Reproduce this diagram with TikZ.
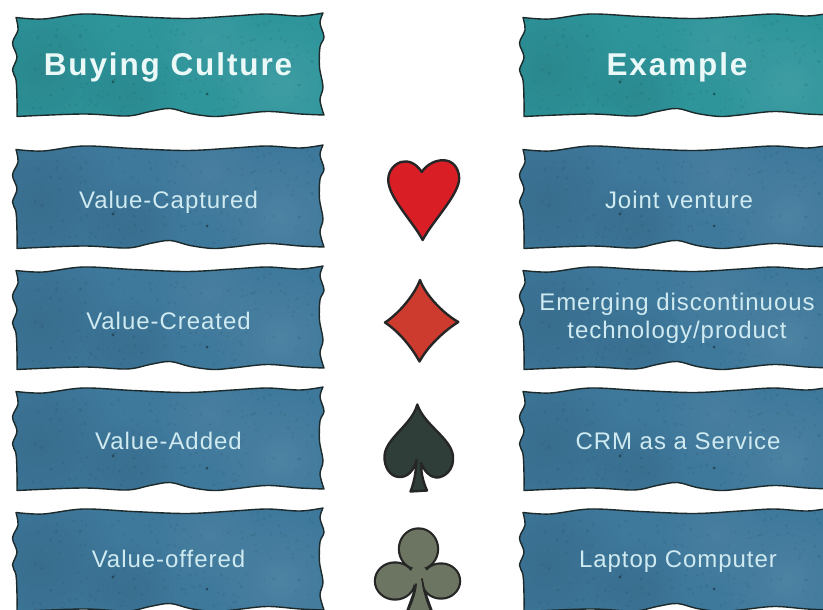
\documentclass[tikz,border=0pt]{standalone}
\usetikzlibrary{fadings}
\usepackage{fontspec}
\setmainfont{Liberation Sans}
\newfontfamily\bodyfont[LetterSpace=4]{Liberation Sans}
\newfontfamily\headfont[LetterSpace=6]{Liberation Sans Bold}
\definecolor{tealbox}{HTML}{2E959B}
\definecolor{bluebox}{HTML}{3E789B}
\definecolor{ink}{HTML}{1C2A2C}
\definecolor{bodytext}{HTML}{CFEAF0}
\definecolor{headtext}{HTML}{EAF8F8}
\definecolor{heartred}{HTML}{D91E26}
\definecolor{diamondred}{HTML}{CC3B2E}
\definecolor{spadegreen}{HTML}{2F3E38}
\definecolor{clubgreen}{HTML}{6C7561}
\tikzset{
  bannerline/.style={draw=ink,line width=1.4pt,line join=round},
  suitline/.style={draw=black!85,line width=2.4pt,line join=round},
  softblot/.style={path fading=softedge},
  bodylabel/.style={font=\fontsize{24}{27.5}\selectfont\bodyfont,text=bodytext,align=center,anchor=base,inner sep=0pt},
  headlabel/.style={font=\fontsize{31.5}{36}\selectfont\headfont,text=headtext,align=center,anchor=base,inner sep=0pt},
}
\tikzfading[name=softedge,inner color=transparent!0,outer color=transparent!100]
\newcommand{\bannerpath}{
  plot[smooth,tension=.55] coordinates {(16,17.5)(43,19)(83,14)(133,16.5)(187,18.5)(233,16)(267,14)(300,16)(323,13)}
  -- plot[smooth,tension=.55] coordinates {(323,13)(320,23)(324,37)(320,47)(319.5,67)(323,87)(320,100)(324,115)}
  -- plot[smooth,tension=.55] coordinates {(324,115)(300,114)(267,111.5)(233,115)(213,116.5)(190,113.5)(170,108.5)(150,111.5)(127,116)(83,114)(17,116.5)}
  -- plot[smooth,tension=.55] coordinates {(17,116.5)(17,100)(16,80)(12.5,70)(17,57)(12.5,43)(18,30)(16,17.5)}
  -- cycle
}
\newcommand{\banner}[3]{%
  \begin{scope}[shift={(#1,#2)}]
    \begin{scope}
      \clip \bannerpath;
      \fill[#3] (0,0) rectangle (340,130);
      \fill[black,opacity=.09,softblot] (40,70) circle (80);
      \fill[black,opacity=.08,softblot] (130,95) circle (50);
      \fill[white,opacity=.08,softblot] (280,85) circle (70);
      \fill[white,opacity=.06,softblot] (210,40) circle (55);
      \pgfmathsetseed{4711}
      \foreach \k in {1,...,260}{
        \pgfmathsetmacro{\px}{10+rnd*320}
        \pgfmathsetmacro{\py}{10+rnd*110}
        \pgfmathsetmacro{\pr}{.5+rnd*1.3}
        \fill[black,opacity=.06] (\px,\py) circle (\pr);
      }
      \fill[black,opacity=.35] (113,82) circle (1.6);
      \fill[black,opacity=.4] (207,94) circle (1.5);
    \end{scope}
    \draw[bannerline] \bannerpath;
  \end{scope}}
\begin{document}
\begin{tikzpicture}[x=1pt,y=-1pt]
\useasboundingbox (0,0) rectangle (823,610);
\clip (0,0) rectangle (823,610);
\fill[white] (0,0) rectangle (823,610);
% banners
\banner{0}{0}{tealbox}
\banner{0}{132}{bluebox}
\banner{0}{253}{bluebox}
\banner{0}{374}{bluebox}
\banner{0}{495}{bluebox}
\banner{507}{0}{tealbox}
\banner{507}{132}{bluebox}
\banner{507}{253}{bluebox}
\banner{507}{374}{bluebox}
\banner{507}{495}{bluebox}
% labels
\node[headlabel] (hleft) at (168,76) {Buying Culture};
\node[headlabel] (hright) at (677,76) {Example};
\node[bodylabel] (l1) at (168.5,208) {Value-Captured};
\node[bodylabel] (l2) at (168.5,329) {Value-Created};
\node[bodylabel] (l3) at (168.5,449) {Value-Added};
\node[bodylabel] (l4) at (168.5,567) {Value-offered};
\node[bodylabel] (r1) at (679,208) {Joint venture};
\node[bodylabel] (r2a) at (677,310.5) {Emerging discontinuous};
\node[bodylabel] (r2b) at (677,338) {technology/product};
\node[bodylabel] (r3) at (678,449) {CRM as a Service};
\node[bodylabel] (r4) at (678,567) {Laptop Computer};
% heart
\draw[suitline,fill=heartred] (421.7,172)
  .. controls (416,163) and (408,160) .. (401,162)
  .. controls (392,165) and (387,174) .. (388.5,183)
  .. controls (391,200) and (413,222) .. (422.7,240)
  .. controls (432,222) and (456,198) .. (459,181)
  .. controls (460,171) and (455,162) .. (446,160.5)
  .. controls (437,159) and (427,164) .. (421.7,172) -- cycle;
% diamond
\draw[suitline,fill=diamondred] (420,280)
  .. controls (426,296) and (444,314) .. (458.3,322)
  .. controls (444,331) and (428,346) .. (419.5,361.5)
  .. controls (411,346) and (398,331) .. (385,322.5)
  .. controls (398,314) and (414,296) .. (420,280) -- cycle;
% spade
\draw[suitline,fill=spadegreen] (417.3,404.5)
  .. controls (424,425) and (451,438) .. (453,456)
  .. controls (454.5,470) and (444,478) .. (436,477.5)
  .. controls (429,477) and (424,470) .. (421,463)
  .. controls (421,475) and (424,484) .. (427,490.5)
  -- (410.5,491.5)
  .. controls (413.5,484) and (416,474) .. (416.5,460)
  .. controls (414,470) and (408,477.5) .. (399,477)
  .. controls (390,476.5) and (384,467) .. (384.5,456)
  .. controls (385.5,438) and (412,425) .. (417.3,404.5) -- cycle;
% club: outline of the lobes, then their fill on top
\draw[suitline,line width=4.4pt,fill=black]
  (418.5,549) ellipse (18.5 and 19.5)
  (395,581) ellipse (19 and 17.5)
  (441,581) ellipse (18 and 16.5)
  (408,612) -- (416,590) -- (420,575) -- (423,590) -- (431,612) -- cycle;
\fill[clubgreen]
  (418.5,549) ellipse (18.5 and 19.5)
  (395,581) ellipse (19 and 17.5)
  (441,581) ellipse (18 and 16.5)
  (409,612) -- (416,590) -- (420,570) -- (423,590) -- (430,612) -- cycle;
\fill[clubgreen] (418.5,560) -- (408,575) -- (418,590) -- (430,575) -- cycle;
\draw[black!85,line width=1.8pt,line cap=round] (422,579) .. controls (424,590) and (426,600) .. (431,610);
\draw[black!85,line width=1.8pt,line cap=round] (416,584) .. controls (415,594) and (412,602) .. (408,610);
\end{tikzpicture}
\end{document}
